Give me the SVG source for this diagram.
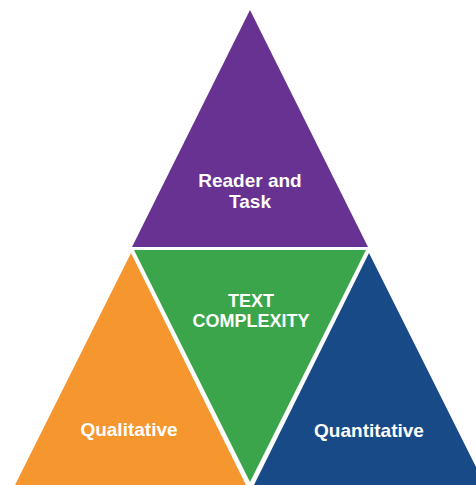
<svg xmlns="http://www.w3.org/2000/svg" width="476" height="485" viewBox="0 0 476 485">
<style>
text{font-family:"Liberation Sans",Arial,sans-serif;font-weight:bold;fill:#ffffff;text-anchor:middle}
.lbl{font-size:19px}
.core{font-size:18px}
</style>
<rect width="476" height="485" fill="#ffffff"/>
<g id="reader-task">
<polygon points="250,10 132,247 368,247" fill="#673291"/>
<text class="lbl" x="250" y="187">Reader and</text>
<text class="lbl" x="250" y="208">Task</text>
</g>
<g id="text-complexity">
<polygon points="134,250 366,250 250,482" fill="#3AA54A"/>
<text class="core" x="251" y="307">TEXT</text>
<text class="core" x="251" y="327">COMPLEXITY</text>
</g>
<g id="qualitative">
<polygon points="131,253 14,487 247,487" fill="#F6962F"/>
<text class="lbl" x="129" y="436">Qualitative</text>
</g>
<g id="quantitative">
<polygon points="369,253 253,487 486,487" fill="#184A87"/>
<text class="lbl" x="369" y="437">Quantitative</text>
</g>
<g id="connectors"></g>
</svg>
